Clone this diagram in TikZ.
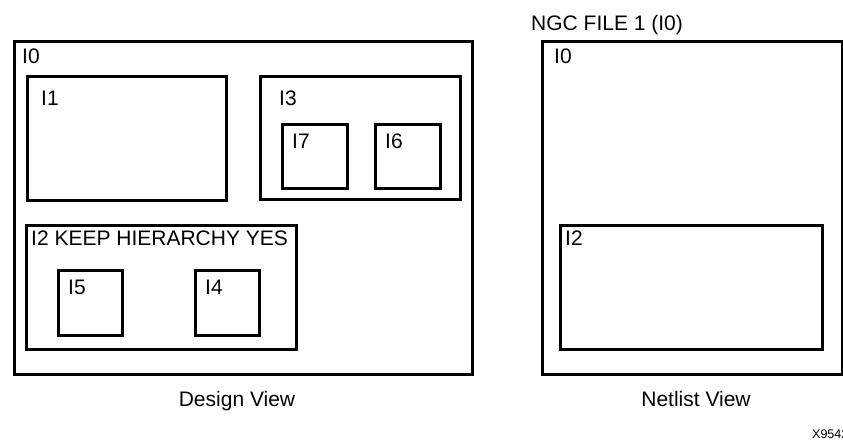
\documentclass[tikz,border=0pt]{standalone}
\usepackage{fontspec}
\setmainfont{Liberation Sans}
\begin{document}
\begin{tikzpicture}[x=1pt,y=-1pt,
  box/.style={draw=black,line width=2.8pt,rectangle,inner sep=0pt,anchor=north west},
  lbl/.style={inner sep=0pt,anchor=base west,font=\fontsize{21}{25}\selectfont},
  viewcaption/.style={inner sep=0pt,anchor=base,font=\fontsize{21}{25}\selectfont},
  figid/.style={inner sep=0pt,anchor=base west,font=\fontsize{12.5}{15}\selectfont}]
\useasboundingbox (0,0) rectangle (843,445);
% Design view
\node[box,minimum width=458pt,minimum height=333pt] (I0) at (13,40) {};
\node[box,minimum width=199pt,minimum height=124pt] (I1) at (26,75) {};
\node[box,minimum width=200pt,minimum height=123pt] (I3) at (259,75) {};
\node[box,minimum width=65pt,minimum height=64pt] (I7) at (281,123) {};
\node[box,minimum width=65pt,minimum height=64pt] (I6) at (374,123) {};
\node[box,minimum width=270pt,minimum height=124pt] (I2) at (25,224) {};
\node[box,minimum width=64pt,minimum height=65pt] (I5) at (57,269) {};
\node[box,minimum width=64pt,minimum height=65pt] (I4) at (194,269) {};
\node[lbl] (tI0) at (22,63) {I0};
\node[lbl] (tI1) at (41,105) {I1};
\node[lbl] (tI3) at (279,105.5) {I3};
\node[lbl] (tI7) at (292,148.5) {I7};
\node[lbl] (tI6) at (385,148.5) {I6};
\node[lbl] (tI2) at (31,245.5) {I2 KEEP HIERARCHY YES};
\node[lbl] (tI5) at (68,294) {I5};
\node[lbl] (tI4) at (205,294) {I4};
\node[viewcaption] (dv) at (237,406.5) {Design View};
% Netlist view
\node[box,minimum width=300pt,minimum height=333pt] (N0) at (541,40) {};
\node[box,minimum width=262pt,minimum height=124pt] (N2) at (559,224) {};
\node[lbl] (ngc) at (531,30.5) {NGC FILE 1 (I0)};
\node[lbl] (tN0) at (554,63) {I0};
\node[lbl] (tN2) at (565,245) {I2};
\node[viewcaption] (nv) at (696,406) {Netlist View};
\node[figid] (fg) at (812,438) {X9542};
\end{tikzpicture}
\end{document}
